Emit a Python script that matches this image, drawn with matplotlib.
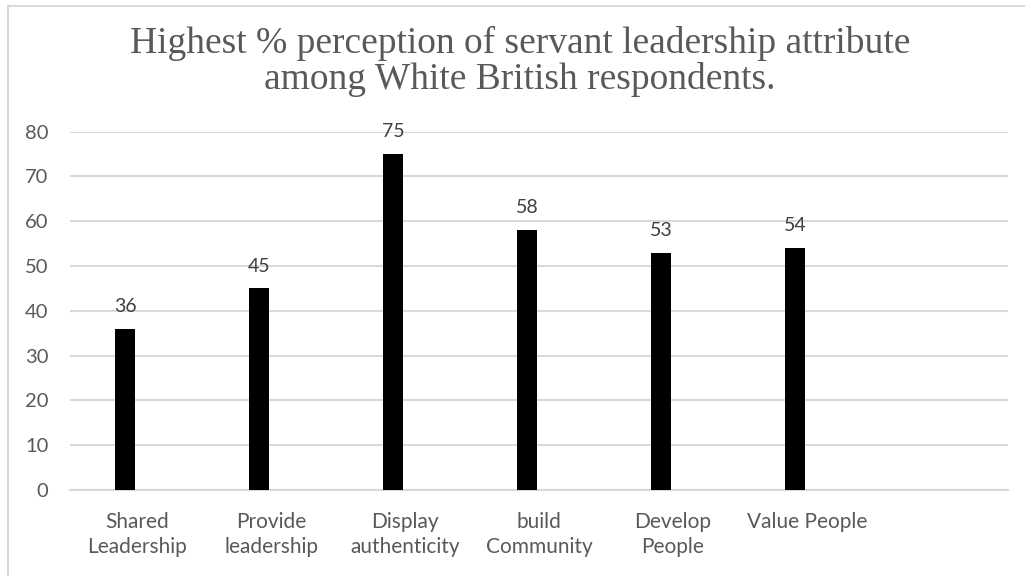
import matplotlib
matplotlib.use("Agg")
import matplotlib.pyplot as plt
from matplotlib.patches import Rectangle

# Chart data
categories = ["Shared\nLeadership", "Provide\nleadership", "Display\nauthenticity",
              "build\nCommunity", "Develop\nPeople", "Value People", ""]
values = [36, 45, 75, 58, 53, 54]
yticks = [0, 10, 20, 30, 40, 50, 60, 70, 80]
title = "Highest % perception of servant leadership attribute\namong White British respondents."

W, H, DPI = 1025, 576, 100
fig = plt.figure(figsize=(W / DPI, H / DPI), dpi=DPI)
fig.patch.set_facecolor("white")

# Light frame around the chart area (open to the right and bottom)
fig.patches.append(Rectangle((7.5 / W, -0.5), 1.2, 1.5 - 5.5 / H, transform=fig.transFigure,
                             fill=False, edgecolor="#d9d9d9", linewidth=1.5))

left, right = 70 / W, 1008 / W
bottom, top = 1 - 490 / H, 1 - 131.7 / H
ax = fig.add_axes([left, bottom, right - left, top - bottom])

text_font = ["Lato", "DejaVu Sans"]
grey = "#595959"

bar_width = 0.155
offset = -0.09
xpos = [i + offset for i in range(len(values))]
ax.bar(xpos, values, width=bar_width, color="black", zorder=3)

for x, v in zip(xpos, values):
    ax.annotate(f"{v}", (x, v), xytext=(0, 10), textcoords="offset points",
                ha="center", va="bottom", fontsize=14, color="#404040",
                family=text_font)

ax.set_xlim(-0.5, len(categories) - 0.5)
ax.set_ylim(0, 80)
ax.set_yticks(yticks)
ax.set_yticklabels([str(t) for t in yticks], family=text_font, fontsize=14.5, color=grey)
ax.set_xticks(range(len(categories)))
ax.set_xticklabels(categories, family=text_font, fontsize=15, color=grey,
                   linespacing=1.3)
ax.tick_params(axis="both", length=0)
ax.tick_params(axis="y", pad=15.5)
ax.tick_params(axis="x", pad=16)

ax.grid(axis="y", color="#d9d9d9", linewidth=1.5, zorder=0)
for s in ["top", "right", "left"]:
    ax.spines[s].set_visible(False)
ax.spines["bottom"].set_color("#d9d9d9")
ax.spines["bottom"].set_linewidth(1.5)
ax.set_facecolor("none")

fig.text(520 / W, 1 - 26 / H, title, ha="center", va="top",
         family=["Liberation Serif", "DejaVu Serif"], fontsize=27, color=grey,
         linespacing=1.02)

fig.savefig("out.png", dpi=DPI, facecolor="white")
